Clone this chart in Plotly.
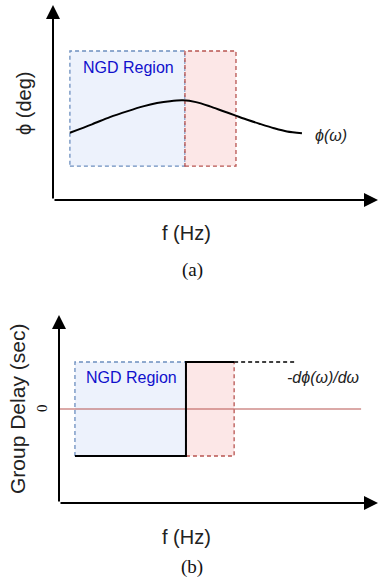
import plotly.graph_objects as go

W, H = 380, 587

# ---------------- data (panel a: phase) ----------------
phase_f = [0.52, 1.2, 1.75, 2.3, 2.77, 3.2, 3.6, 4.0, 4.4, 4.83, 5.2, 5.6, 6.0, 6.37, 6.8, 7.2, 7.66]
phase_v = [3.45, 3.88, 4.25, 4.56, 4.80, 4.97, 5.07, 5.11, 5.02, 4.80, 4.58, 4.34, 4.10, 3.90, 3.68, 3.51, 3.42]
a_ngd_x = [0.52, 4.06]
a_red_x = [4.06, 5.63]
a_reg_y = [1.74, 7.64]

# ---------------- data (panel b: group delay) ----------------
gd_f = [0.5, 3.98, 3.98, 5.49]
gd_v = [-2.5, -2.5, 2.5, 2.5]
gd_ext_f = [5.49, 7.43]
gd_ext_v = [2.5, 2.5]
zero_f = [0, 9.47]
zero_v = [0, 0]
b_ngd_x = [0.5, 3.98]
b_red_x = [3.98, 5.49]
b_reg_y = [-2.5, 2.5]
b_tick_vals = [0]
b_tick_text = ["0"]

SANS = "Liberation Sans, Arial, sans-serif"
SERIF = "Liberation Serif, Times New Roman, serif"
BLUE_FILL = "rgba(222,232,250,0.55)"
BLUE_LINE = "#6C8EBF"
RED_FILL = "rgba(250,212,212,0.55)"
RED_LINE = "#B85450"


def px(x):
    return x / W


def py(y):
    return 1 - y / H


fig = go.Figure()

# phase curve
fig.add_trace(go.Scatter(x=phase_f, y=phase_v, mode="lines",
                         line=dict(color="black", width=2, shape="spline", smoothing=0.8),
                         xaxis="x", yaxis="y", hoverinfo="skip"))
# group delay step
fig.add_trace(go.Scatter(x=zero_f, y=zero_v, mode="lines",
                         line=dict(color=RED_LINE, width=1.2),
                         xaxis="x2", yaxis="y2", hoverinfo="skip"))
fig.add_trace(go.Scatter(x=gd_f, y=gd_v, mode="lines",
                         line=dict(color="black", width=2),
                         xaxis="x2", yaxis="y2", hoverinfo="skip"))
fig.add_trace(go.Scatter(x=gd_ext_f, y=gd_ext_v, mode="lines",
                         line=dict(color="black", width=1.5, dash="4px,3px"),
                         xaxis="x2", yaxis="y2", hoverinfo="skip"))

shapes = []


def rect(xr, yr, xref, yref, fill, line):
    shapes.append(dict(type="rect", xref=xref, yref=yref, x0=xr[0], x1=xr[1],
                       y0=yr[0], y1=yr[1], fillcolor=fill, layer="below",
                       line=dict(color=line, width=1.3, dash="4px,3px")))


rect(a_ngd_x, a_reg_y, "x", "y", BLUE_FILL, BLUE_LINE)
rect(a_red_x, a_reg_y, "x", "y", RED_FILL, RED_LINE)
rect(b_ngd_x, b_reg_y, "x2", "y2", BLUE_FILL, BLUE_LINE)
rect(b_red_x, b_reg_y, "x2", "y2", RED_FILL, RED_LINE)

ann = []


def axis_arrow(xref, yref, x0, y0, x1, y1):
    ann.append(dict(xref=xref, yref=yref, axref=xref, ayref=yref,
                    x=x1, y=y1, ax=x0, ay=y0, text="", showarrow=True,
                    arrowhead=2, arrowsize=1.4, arrowwidth=2, arrowcolor="black",
                    standoff=0, startstandoff=0))


axis_arrow("x", "y", 0, 0, 0, 10)
axis_arrow("x", "y", 0, 0, 10, 0)
axis_arrow("x2", "y2", 0, -5, 0, 5)
axis_arrow("x2", "y2", 0, -5, 10, -5)


def text(t, x, y, xref="paper", yref="paper", size=20, color="#222", family=SANS,
         angle=0, xanchor="center", italic=False):
    ann.append(dict(text=t, x=x, y=y, xref=xref, yref=yref, showarrow=False,
                    textangle=angle, xanchor=xanchor, yanchor="middle",
                    font=dict(size=size, color=color, family=family,
                              style="italic" if italic else "normal")))


# panel a texts
text("NGD Region", 2.32, 6.77, "x", "y", size=16, color="#1010CC")
text("\u03d5(\u03c9)", 8.0, 3.33, "x", "y", size=16, color="#222", xanchor="left", italic=True)
text("f (Hz)", px(186), py(233), size=20)
text("(a)", px(192), py(270), size=19, family=SERIF, color="#111")
text("\u03d5 (deg)", px(24), py(104), size=20, angle=-90)

# panel b texts
text("NGD Region", 2.26, 1.7, "x2", "y2", size=16, color="#1010CC")
text("-d\u03d5(\u03c9)/d\u03c9", 7.1, 1.65, "x2", "y2", size=16, color="#222", xanchor="left", italic=True)
text(b_tick_text[0], px(42), py(408), size=15, family=SERIF, angle=-90, color="#111")
text("Group Delay (sec)", px(17), py(409), size=21, angle=-90)
text("f (Hz)", px(186), py(537), size=20)
text("(b)", px(192), py(567), size=19, family=SERIF, color="#111")

hidden = dict(showgrid=False, zeroline=False, showline=False, showticklabels=False,
              ticks="", fixedrange=True)

fig.update_layout(
    width=W, height=H,
    margin=dict(l=0, r=0, t=0, b=0),
    paper_bgcolor="white", plot_bgcolor="rgba(0,0,0,0)",
    showlegend=False,
    xaxis=dict(domain=[px(53), px(378)], range=[0, 10], anchor="y", **hidden),
    yaxis=dict(domain=[py(200), py(5)], range=[0, 10], anchor="x", **hidden),
    xaxis2=dict(domain=[px(59), px(378)], range=[0, 10], anchor="y2", **hidden),
    yaxis2=dict(domain=[py(503), py(315)], range=[-5, 5], anchor="x2",
                tickvals=b_tick_vals, **hidden),
    shapes=shapes,
    annotations=ann,
)

fig.write_html("out.html")
